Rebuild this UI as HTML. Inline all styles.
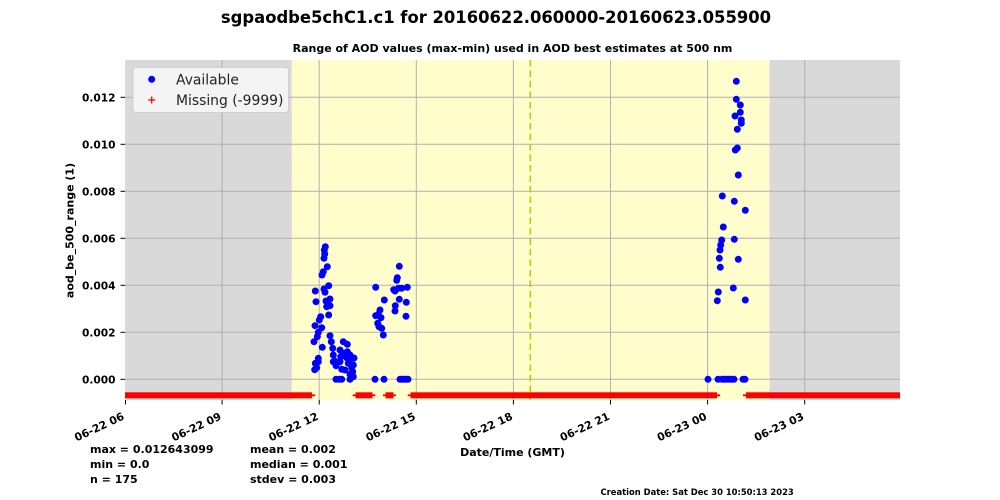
<!DOCTYPE html>
<html>
<head>
<meta charset="utf-8">
<style>
html,body{margin:0;padding:0;background:#fff;}
svg{display:block;}
text{font-family:"DejaVu Sans","Liberation Sans",sans-serif;}
.b{font-weight:bold;}
</style>
</head>
<body>
<svg width="1000" height="500" viewBox="0 0 1000 500" xmlns="http://www.w3.org/2000/svg">
<!-- plot background -->
<rect x="125" y="60" width="775" height="340" fill="#d9d9d9"/>
<rect x="291.7" y="60" width="477.8" height="340" fill="#fffdcc"/>
<!-- grid -->
<g stroke="#b0b0b0" stroke-width="1">
<line x1="222.1" y1="60" x2="222.1" y2="400"/>
<line x1="319.2" y1="60" x2="319.2" y2="400"/>
<line x1="416.3" y1="60" x2="416.3" y2="400"/>
<line x1="513.4" y1="60" x2="513.4" y2="400"/>
<line x1="610.5" y1="60" x2="610.5" y2="400"/>
<line x1="707.6" y1="60" x2="707.6" y2="400"/>
<line x1="804.7" y1="60" x2="804.7" y2="400"/>
<line x1="125" y1="379.3" x2="900" y2="379.3"/>
<line x1="125" y1="332.3" x2="900" y2="332.3"/>
<line x1="125" y1="285.3" x2="900" y2="285.3"/>
<line x1="125" y1="238.3" x2="900" y2="238.3"/>
<line x1="125" y1="191.3" x2="900" y2="191.3"/>
<line x1="125" y1="144.3" x2="900" y2="144.3"/>
<line x1="125" y1="97.3" x2="900" y2="97.3"/>
</g>
<!-- dashed line -->
<line x1="530.3" y1="60" x2="530.3" y2="400" stroke="#c8c800" stroke-width="1.6" stroke-dasharray="6.5,4"/>
<!-- missing band -->
<g fill="#ff0000">
<rect x="125" y="392.3" width="187" height="6"/>
<rect x="355.5" y="392.3" width="17" height="6"/>
<rect x="385.5" y="392.3" width="8" height="6"/>
<rect x="410.5" y="392.3" width="306.5" height="6"/>
<rect x="746" y="392.3" width="154" height="6"/>
</g>
<g stroke="#ff0000" stroke-width="1.8">
<line x1="125" y1="395.3" x2="315" y2="395.3"/>
<line x1="352.7" y1="395.3" x2="375.3" y2="395.3"/>
<line x1="383" y1="395.3" x2="396" y2="395.3"/>
<line x1="407.7" y1="395.3" x2="720" y2="395.3"/>
<line x1="743" y1="395.3" x2="900" y2="395.3"/>
</g>
<!-- available points -->
<g fill="#0000ff">
<circle cx="325.3" cy="246.7" r="3.5"/><circle cx="324.3" cy="250" r="3.5"/><circle cx="324.7" cy="254" r="3.5"/><circle cx="324" cy="258.3" r="3.5"/>
<circle cx="327.3" cy="266.7" r="3.5"/><circle cx="323.3" cy="271.7" r="3.5"/><circle cx="322" cy="275" r="3.5"/><circle cx="328.7" cy="285.7" r="3.5"/>
<circle cx="324" cy="289" r="3.5"/><circle cx="315.3" cy="291" r="3.5"/><circle cx="325" cy="292.3" r="3.5"/><circle cx="330" cy="299" r="3.5"/>
<circle cx="316" cy="301.7" r="3.5"/><circle cx="326" cy="301" r="3.5"/><circle cx="330" cy="305.7" r="3.5"/><circle cx="326.7" cy="306.7" r="3.5"/>
<circle cx="328.7" cy="315" r="3.5"/><circle cx="320.7" cy="316.7" r="3.5"/><circle cx="319.3" cy="320" r="3.5"/><circle cx="315" cy="325.7" r="3.5"/>
<circle cx="321.7" cy="327.7" r="3.5"/><circle cx="318.3" cy="332.3" r="3.5"/><circle cx="317.3" cy="336.7" r="3.5"/><circle cx="314" cy="341.7" r="3.5"/>
<circle cx="330" cy="335.7" r="3.5"/><circle cx="331.3" cy="341.7" r="3.5"/><circle cx="322.3" cy="347.3" r="3.5"/><circle cx="332.7" cy="348.3" r="3.5"/>
<circle cx="343.3" cy="341.7" r="3.5"/><circle cx="347.3" cy="344.3" r="3.5"/><circle cx="340" cy="350" r="3.5"/><circle cx="343.3" cy="353.3" r="3.5"/>
<circle cx="347.3" cy="351.7" r="3.5"/><circle cx="318.3" cy="358.3" r="3.5"/><circle cx="315.3" cy="363.3" r="3.5"/><circle cx="318.3" cy="361.7" r="3.5"/>
<circle cx="333.3" cy="355" r="3.5"/><circle cx="334.7" cy="361" r="3.5"/><circle cx="340.7" cy="356.7" r="3.5"/><circle cx="346.7" cy="357.7" r="3.5"/>
<circle cx="350" cy="359" r="3.5"/><circle cx="350" cy="355" r="3.5"/><circle cx="340" cy="361.7" r="3.5"/><circle cx="348.3" cy="363.3" r="3.5"/>
<circle cx="336" cy="365.7" r="3.5"/><circle cx="333.3" cy="361.7" r="3.5"/><circle cx="353.3" cy="365" r="3.5"/><circle cx="351.7" cy="367.7" r="3.5"/>
<circle cx="314.7" cy="369.7" r="3.5"/><circle cx="316.7" cy="367.7" r="3.5"/><circle cx="341.7" cy="369.3" r="3.5"/><circle cx="352.7" cy="371.7" r="3.5"/>
<circle cx="350" cy="374.3" r="3.5"/><circle cx="353.3" cy="376.7" r="3.5"/><circle cx="350" cy="379.3" r="3.5"/><circle cx="336" cy="379.3" r="3.5"/>
<circle cx="339.3" cy="379.3" r="3.5"/><circle cx="341.7" cy="379.3" r="3.5"/><circle cx="345" cy="370" r="3.5"/><circle cx="354" cy="358" r="3.5"/>
<!-- cluster 2 -->
<circle cx="399.3" cy="266.3" r="3.5"/><circle cx="397.3" cy="277.7" r="3.5"/><circle cx="396.7" cy="280.3" r="3.5"/><circle cx="375.7" cy="287.3" r="3.5"/>
<circle cx="393.7" cy="289.7" r="3.5"/><circle cx="398.3" cy="288.3" r="3.5"/><circle cx="401.7" cy="288.3" r="3.5"/><circle cx="407.3" cy="287.3" r="3.5"/>
<circle cx="395" cy="291" r="3.5"/><circle cx="384.3" cy="300" r="3.5"/><circle cx="399.3" cy="299.3" r="3.5"/><circle cx="406.3" cy="302.3" r="3.5"/>
<circle cx="395.3" cy="305.7" r="3.5"/><circle cx="395" cy="311" r="3.5"/><circle cx="380" cy="310" r="3.5"/><circle cx="378.3" cy="314.3" r="3.5"/>
<circle cx="381" cy="317.7" r="3.5"/><circle cx="375.7" cy="315.7" r="3.5"/><circle cx="406" cy="316.3" r="3.5"/><circle cx="377.7" cy="323.3" r="3.5"/>
<circle cx="379" cy="326.7" r="3.5"/><circle cx="381.7" cy="328.3" r="3.5"/><circle cx="383.3" cy="335" r="3.5"/>
<circle cx="375" cy="379.3" r="3.5"/><circle cx="384" cy="379.3" r="3.5"/><circle cx="400" cy="379.3" r="3.5"/><circle cx="402" cy="379.3" r="3.5"/>
<circle cx="404" cy="379.3" r="3.5"/><circle cx="406" cy="379.3" r="3.5"/><circle cx="408" cy="379.3" r="3.5"/>
<!-- cluster 3 -->
<circle cx="736.3" cy="81.3" r="3.5"/><circle cx="736.3" cy="99.3" r="3.5"/><circle cx="740.3" cy="105" r="3.5"/><circle cx="740.3" cy="112.3" r="3.5"/>
<circle cx="735" cy="116" r="3.5"/><circle cx="741.3" cy="120" r="3.5"/><circle cx="741.3" cy="123.3" r="3.5"/><circle cx="737.3" cy="129.3" r="3.5"/>
<circle cx="737.3" cy="148" r="3.5"/><circle cx="735.3" cy="150" r="3.5"/><circle cx="738.3" cy="175" r="3.5"/><circle cx="722.3" cy="196" r="3.5"/>
<circle cx="734.3" cy="201.3" r="3.5"/><circle cx="745.3" cy="210.3" r="3.5"/><circle cx="723.3" cy="227" r="3.5"/><circle cx="721.7" cy="240" r="3.5"/>
<circle cx="734.3" cy="239.3" r="3.5"/><circle cx="720.7" cy="245" r="3.5"/><circle cx="720" cy="250" r="3.5"/><circle cx="719.3" cy="258.3" r="3.5"/>
<circle cx="738.3" cy="259.3" r="3.5"/><circle cx="720.3" cy="267.3" r="3.5"/><circle cx="733.3" cy="288" r="3.5"/><circle cx="718.3" cy="292" r="3.5"/>
<circle cx="717.3" cy="300.7" r="3.5"/><circle cx="745.3" cy="300" r="3.5"/>
<circle cx="708" cy="379.3" r="3.5"/><circle cx="718" cy="379.3" r="3.5"/><circle cx="722" cy="379.3" r="3.5"/><circle cx="724" cy="379.3" r="3.5"/>
<circle cx="726" cy="379.3" r="3.5"/><circle cx="728" cy="379.3" r="3.5"/><circle cx="730" cy="379.3" r="3.5"/><circle cx="732" cy="379.3" r="3.5"/>
<circle cx="734" cy="379.3" r="3.5"/><circle cx="743" cy="379.3" r="3.5"/><circle cx="745" cy="379.3" r="3.5"/>
</g>
<!-- ticks -->
<g stroke="#000" stroke-width="1">
<line x1="120.5" y1="379.3" x2="125" y2="379.3"/>
<line x1="120.5" y1="332.3" x2="125" y2="332.3"/>
<line x1="120.5" y1="285.3" x2="125" y2="285.3"/>
<line x1="120.5" y1="238.3" x2="125" y2="238.3"/>
<line x1="120.5" y1="191.3" x2="125" y2="191.3"/>
<line x1="120.5" y1="144.3" x2="125" y2="144.3"/>
<line x1="120.5" y1="97.3" x2="125" y2="97.3"/>
<line x1="125.5" y1="400" x2="125.5" y2="404.5"/>
<line x1="222.1" y1="400" x2="222.1" y2="404.5"/>
<line x1="319.2" y1="400" x2="319.2" y2="404.5"/>
<line x1="416.3" y1="400" x2="416.3" y2="404.5"/>
<line x1="513.4" y1="400" x2="513.4" y2="404.5"/>
<line x1="610.5" y1="400" x2="610.5" y2="404.5"/>
<line x1="707.6" y1="400" x2="707.6" y2="404.5"/>
<line x1="804.7" y1="400" x2="804.7" y2="404.5"/>
</g>
<!-- y tick labels -->
<g class="b" font-size="10.6" text-anchor="end" fill="#000">
<text x="115.5" y="383.3">0.000</text>
<text x="115.5" y="336.3">0.002</text>
<text x="115.5" y="289.3">0.004</text>
<text x="115.5" y="242.3">0.006</text>
<text x="115.5" y="195.3">0.008</text>
<text x="115.5" y="148.3">0.010</text>
<text x="115.5" y="101.3">0.012</text>
</g>
<!-- x tick labels -->
<g class="b" font-size="10.8" text-anchor="end" fill="#000">
<text transform="translate(125,419) rotate(-25)">06-22 06</text>
<text transform="translate(222.1,419) rotate(-25)">06-22 09</text>
<text transform="translate(319.2,419) rotate(-25)">06-22 12</text>
<text transform="translate(416.3,419) rotate(-25)">06-22 15</text>
<text transform="translate(513.4,419) rotate(-25)">06-22 18</text>
<text transform="translate(610.5,419) rotate(-25)">06-22 21</text>
<text transform="translate(707.6,419) rotate(-25)">06-23 00</text>
<text transform="translate(804.7,419) rotate(-25)">06-23 03</text>
</g>
<!-- axis labels -->
<text class="b" font-size="11" text-anchor="middle" transform="translate(73.5,230.5) rotate(-90)">aod_be_500_range (1)</text>
<text class="b" font-size="11" text-anchor="middle" x="512.5" y="456">Date/Time (GMT)</text>
<!-- titles -->
<text class="b" font-size="16.4" text-anchor="middle" x="496" y="23">sgpaodbe5chC1.c1 for 20160622.060000-20160623.055900</text>
<text class="b" font-size="11" text-anchor="middle" x="512.5" y="52">Range of AOD values (max-min) used in AOD best estimates at 500 nm</text>
<!-- legend -->
<rect x="133" y="67.5" width="155.5" height="45" rx="3" ry="3" fill="#f5f5f5" fill-opacity="0.95" stroke="#cfcfcf" stroke-width="1"/>
<circle cx="151.7" cy="79.3" r="3.5" fill="#0000ff"/>
<g stroke="#ff0000" stroke-width="1.3">
<line x1="148.2" y1="100" x2="155.2" y2="100"/>
<line x1="151.7" y1="96.5" x2="151.7" y2="103.5"/>
</g>
<text font-size="13.9" x="176" y="84.3" fill="#222">Available</text>
<text font-size="13.9" x="176" y="105" fill="#222">Missing (-9999)</text>
<!-- stats -->
<g class="b" font-size="11" fill="#000">
<text x="90" y="453">max = 0.012643099</text>
<text x="90" y="468">min = 0.0</text>
<text x="90" y="483">n = 175</text>
<text x="250" y="453">mean = 0.002</text>
<text x="250" y="468">median = 0.001</text>
<text x="250" y="483">stdev = 0.003</text>
</g>
<text class="b" font-size="8.4" x="600.5" y="495">Creation Date: Sat Dec 30 10:50:13 2023</text>
</svg>
</body>
</html>
